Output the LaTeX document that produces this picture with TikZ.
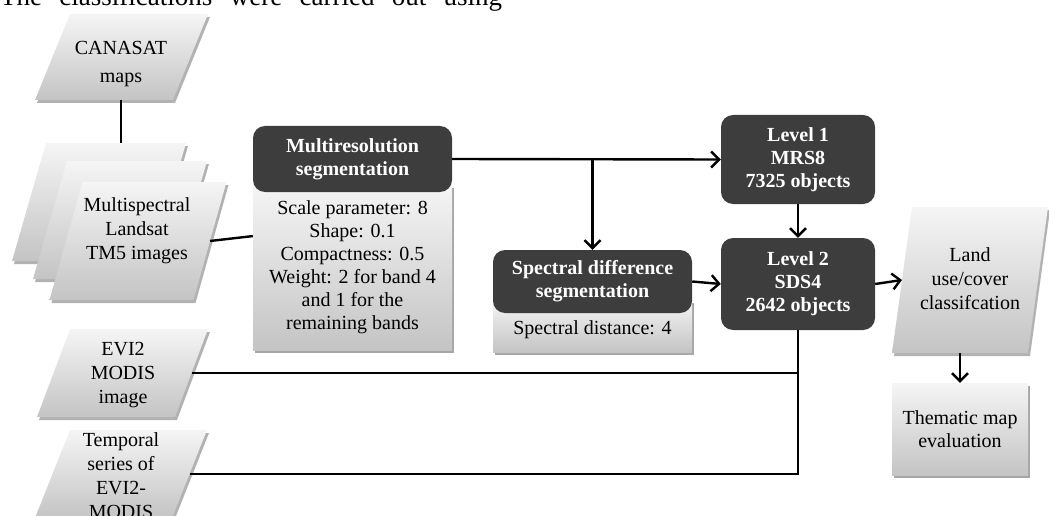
\documentclass[tikz,border=0pt]{standalone}
\usepackage{fontspec}
\setmainfont{Liberation Serif}
\usetikzlibrary{arrows.meta,calc,shadows}
\definecolor{dkfill}{HTML}{3D3D3D}
\definecolor{lighttop}{HTML}{F5F5F5}
\definecolor{lightbot}{HTML}{C4C4C4}
\tikzset{
  conn/.style={line width=2.4pt, draw=black},
  arr/.style={conn, -{Straight Barb[length=8pt,width=16pt,line width=2.4pt]}},
  dkbox/.style={draw=none, fill=dkfill, rounded corners=12pt, text=white,
    font=\bfseries\fontsize{20}{23}\selectfont, align=center, inner sep=0pt},
  lightbox/.style={top color=lighttop, bottom color=lightbot, draw=none, align=center,
    font=\fontsize{20}{23}\selectfont, inner sep=0pt,
    drop shadow={shadow xshift=1.5pt, shadow yshift=-2.5pt, opacity=0.35, fill=black}},
  ptext/.style={align=center, font=\fontsize{20}{24}\selectfont, inner sep=0pt},
  pshadow/.style={fill=black, opacity=0.3},
  pshade/.style={top color=lighttop, bottom color=lightbot},
}
% parallelogram: name, cx, cy, width, height, slant
\newcommand\pgram[6]{%
  \fill[pshadow] ({#2-#4/2+#6/2+2},{#3-#5/2+3}) -- ({#2+#4/2+#6/2+2},{#3-#5/2+3})
     -- ({#2+#4/2-#6/2+2},{#3+#5/2+3}) -- ({#2-#4/2-#6/2+2},{#3+#5/2+3}) -- cycle;
  \shade[pshade] ({#2-#4/2+#6/2},{#3-#5/2}) -- ({#2+#4/2+#6/2},{#3-#5/2})
     -- ({#2+#4/2-#6/2},{#3+#5/2}) -- ({#2-#4/2-#6/2},{#3+#5/2}) -- cycle;
  \coordinate (#1-e) at ({#2+#4/2},#3);
  \coordinate (#1-w) at ({#2-#4/2},#3);
  \coordinate (#1-n) at ({#2+#6/2},{#3-#5/2});
  \coordinate (#1-s) at ({#2-#6/2},{#3+#5/2});
}
\begin{document}
\begin{tikzpicture}[x=1pt,y=-1pt]
\useasboundingbox (0,0) rectangle (1049,516);
\clip (0,0) rectangle (1049,516);

% running text line at the top, cut off by the frame as in the original
\node[anchor=base west, font=\fontsize{27}{30}\selectfont, inner sep=0pt] (toptext) at (0,6)
  {\makebox[502pt][s]{The classifications were carried out using}};

% parallelograms
\pgram{canasatp}{121.5}{57}{138}{86}{35}
\node[ptext] (canasat) at (121,64) {CANASAT\\[4pt]maps};

\pgram{ms3}{99}{202}{140}{118}{34}
\pgram{ms2}{120}{220}{140}{118}{34}
\pgram{ms1}{138}{241}{144}{118}{33}
\node[ptext] (ms) at (137,231) {Multispectral\\Landsat\\TM5 images};

\pgram{evip}{122.5}{373}{138}{88}{33}
\node[ptext] (evi) at (123,375) {EVI2\\MODIS\\image};

\pgram{tempp}{121}{474}{137}{88}{35}
\node[ptext] (temp) at (121,476) {Temporal\\series of\\EVI2-\\MODIS};

\pgram{landp}{970}{280}{136}{146}{20}
\node[ptext] (land) at (970,279) {Land\\use/cover\\classifcation};

% boxes
\node[lightbox, minimum width=199pt, minimum height=165pt] (mrsb) at (352.5,267.5)
  {Scale parameter: 8\\Shape: 0.1\\Compactness: 0.5\\Weight: 2 for band 4\\and 1 for the\\remaining bands};
\node[dkbox, minimum width=199pt, minimum height=66pt] (mrsh) at (352.5,159)
  {Multiresolution\\segmentation};

\node[lightbox, minimum width=199pt, minimum height=52pt] (specb) at (592.5,326) {};
\node[ptext] (specbt) at (592.5,330) {Spectral distance: 4};
\node[dkbox, minimum width=199pt, minimum height=63pt] (spech) at (592.5,281.5)
  {Spectral difference\\segmentation};

\node[dkbox, minimum width=154pt, minimum height=89pt] (lev1) at (798,159.5)
  {Level 1\\MRS8\\7325 objects};
\node[dkbox, minimum width=154pt, minimum height=92pt] (lev2) at (798,284)
  {Level 2\\SDS4\\2642 objects};

\node[lightbox, minimum width=136pt, minimum height=92pt] (them) at (960,429)
  {Thematic map\\evaluation};

% connectors
\draw[conn] (canasat.center |- canasatp-s) -- (canasat.center |- ms3-n);
\draw[conn] (ms1-e) -- ($(mrsb.north west)!0.31!(mrsb.south west)$);
\draw[arr] (mrsh.east) -- (lev1.west);
\draw[arr] (spech.north |- mrsh.east) -- (spech.north);
\draw[arr] (spech.east) -- (lev2.west);
\draw[arr] (lev1.south) -- (lev2.north);
\draw[arr] (lev2.east) -- (landp-w);
\draw[arr] (landp-s) -- (them.north);
\draw[conn] (evip-e) -- (evip-e -| lev2.south);
\draw[conn] (lev2.south) -- (lev2.south |- tempp-e) -- (tempp-e);
\end{tikzpicture}
\end{document}
